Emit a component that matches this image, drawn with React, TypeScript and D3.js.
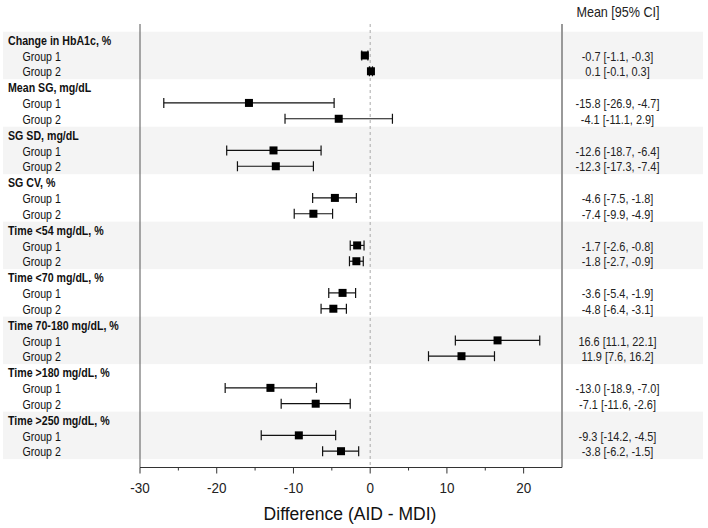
import React from 'react';
import * as d3 from 'd3';

const categories = [
  'Change in HbA1c, %',
  'Mean SG, mg/dL',
  'SG SD, mg/dL',
  'SG CV, %',
  'Time <54 mg/dL, %',
  'Time <70 mg/dL, %',
  'Time 70-180 mg/dL, %',
  'Time >180 mg/dL, %',
  'Time >250 mg/dL, %',
];
const groups = ['Group 1', 'Group 2'];

// [group 1, group 2] per category
const means = [
  [-0.7, 0.1],
  [-15.8, -4.1],
  [-12.6, -12.3],
  [-4.6, -7.4],
  [-1.7, -1.8],
  [-3.6, -4.8],
  [16.6, 11.9],
  [-13.0, -7.1],
  [-9.3, -3.8],
];
const lowers = [
  [-1.1, -0.1],
  [-26.9, -11.1],
  [-18.7, -17.3],
  [-7.5, -9.9],
  [-2.6, -2.7],
  [-5.4, -6.4],
  [11.1, 7.6],
  [-18.9, -11.6],
  [-14.2, -6.2],
];
const uppers = [
  [-0.3, 0.3],
  [-4.7, 2.9],
  [-6.4, -7.4],
  [-1.8, -4.9],
  [-0.8, -0.9],
  [-1.9, -3.1],
  [22.1, 16.2],
  [-7.0, -2.6],
  [-4.5, -1.5],
];
const xTicks = [-30, -20, -10, 0, 10, 20];
const xMinorTicks = [-25, -15, -5, 5, 15];

const W = 708;
const H = 528;
const font = 'Arial, "Liberation Sans", sans-serif';

const fmt = (v: number) => v.toFixed(1);
// the source picture has narrow lettering, squeeze text horizontally
const squeeze = (x: number, y: number, sx: number) => `translate(${x},${y}) scale(${sx},1)`;

const draw = () => {
  const top = 31.7;
  const rowH = 15.83;
  const plotL = 140;
  const plotR = 562;
  const lineTop = 24;
  const axisY = 467.5;

  const x = d3.scaleLinear().domain([-30, 25]).range([plotL, plotR]);

  const rows: Array<{ label: string; header: boolean; ci: number; gi: number }> = [];
  categories.forEach((c, ci) => {
    rows.push({ label: c, header: true, ci, gi: -1 });
    groups.forEach((g, gi) => rows.push({ label: g, header: false, ci, gi }));
  });
  const y = d3
    .scaleBand<number>()
    .domain(d3.range(rows.length))
    .range([top, top + rowH * rows.length]);
  const yc = (i: number) => (y(i) || 0) + rowH / 2;

  const svg = d3
    .create('svg')
    .attr('width', W)
    .attr('height', H)
    .attr('viewBox', `0 0 ${W} ${H}`)
    .style('display', 'block')
    .style('font-family', font);

  svg.append('rect').attr('width', W).attr('height', H).attr('fill', '#fff');

  // alternating category bands
  svg
    .append('g')
    .selectAll('rect')
    .data(categories.map((c, i) => i).filter((i) => i % 2 === 0))
    .join('rect')
    .attr('x', 3)
    .attr('y', (i) => y(i * 3) || 0)
    .attr('width', 700)
    .attr('height', rowH * 3)
    .attr('fill', '#f4f4f4');

  // row labels
  svg
    .append('g')
    .selectAll('text')
    .data(rows)
    .join('text')
    .attr('transform', (d, i) => squeeze(d.header ? 8 : 22.5, yc(i) + 0.8, 0.85))
    .attr('dy', '0.35em')
    .attr('font-size', 12.5)
    .attr('font-weight', (d) => (d.header ? 'bold' : 'normal'))
    .attr('fill', '#111')
    .text((d) => d.label);

  // zero reference
  svg
    .append('line')
    .attr('x1', x(0))
    .attr('x2', x(0))
    .attr('y1', lineTop)
    .attr('y2', axisY)
    .attr('stroke', '#aaa')
    .attr('stroke-dasharray', '3,3');

  // frame lines
  svg
    .append('line')
    .attr('x1', plotL)
    .attr('x2', plotL)
    .attr('y1', lineTop)
    .attr('y2', axisY)
    .attr('stroke', '#555')
    .attr('stroke-width', 1);
  svg
    .append('line')
    .attr('x1', plotR)
    .attr('x2', plotR)
    .attr('y1', lineTop)
    .attr('y2', axisY)
    .attr('stroke', '#999')
    .attr('stroke-width', 2);

  const groupRows = rows.map((d, i) => ({ ...d, i })).filter((d) => !d.header);

  // error bars
  const g = svg.append('g').attr('stroke', '#111').attr('stroke-width', 1.2);
  groupRows.forEach((d) => {
    const cy = yc(d.i);
    const lo = x(lowers[d.ci][d.gi]);
    const hi = x(uppers[d.ci][d.gi]);
    g.append('line').attr('x1', lo).attr('x2', hi).attr('y1', cy).attr('y2', cy);
    g.append('line').attr('x1', lo).attr('x2', lo).attr('y1', cy - 5).attr('y2', cy + 5);
    g.append('line').attr('x1', hi).attr('x2', hi).attr('y1', cy - 5).attr('y2', cy + 5);
  });

  svg
    .append('g')
    .selectAll('rect')
    .data(groupRows)
    .join('rect')
    .attr('x', (d) => x(means[d.ci][d.gi]) - 4)
    .attr('y', (d) => yc(d.i) - 4)
    .attr('width', 8)
    .attr('height', 8)
    .attr('fill', '#000');

  // right-hand estimates
  svg
    .append('text')
    .attr('transform', squeeze(618, 12, 0.9))
    .attr('dy', '0.35em')
    .attr('text-anchor', 'middle')
    .attr('font-size', 14)
    .attr('fill', '#222')
    .text('Mean [95% CI]');
  svg
    .append('g')
    .selectAll('text')
    .data(groupRows)
    .join('text')
    .attr('transform', (d) => squeeze(617.5, yc(d.i) + 0.8, 0.875))
    .attr('dy', '0.35em')
    .attr('text-anchor', 'middle')
    .attr('font-size', 12.5)
    .attr('fill', '#222')
    .text(
      (d) =>
        `${fmt(means[d.ci][d.gi])} [${fmt(lowers[d.ci][d.gi])}, ${fmt(uppers[d.ci][d.gi])}]`,
    );

  // x axis
  const ax = svg.append('g').attr('transform', `translate(0,${axisY})`);
  ax.append('line')
    .attr('x1', plotL)
    .attr('x2', plotR)
    .attr('stroke', '#333');
  ax.selectAll('line.major')
    .data(xTicks)
    .join('line')
    .attr('class', 'major')
    .attr('x1', (d) => x(d))
    .attr('x2', (d) => x(d))
    .attr('y2', 6)
    .attr('stroke', '#333');
  ax.selectAll('line.minor')
    .data(xMinorTicks)
    .join('line')
    .attr('class', 'minor')
    .attr('x1', (d) => x(d))
    .attr('x2', (d) => x(d))
    .attr('y2', 3)
    .attr('stroke', '#333');
  ax.selectAll('text')
    .data(xTicks)
    .join('text')
    .attr('transform', (d) => squeeze(x(d), 20, 0.9))
    .attr('dy', '0.35em')
    .attr('text-anchor', 'middle')
    .attr('font-size', 15)
    .attr('fill', '#222')
    .text((d) => String(d));

  svg
    .append('text')
    .attr('x', 350)
    .attr('y', 514)
    .attr('dy', '0.35em')
    .attr('text-anchor', 'middle')
    .attr('font-size', 17.5)
    .attr('fill', '#111')
    .text('Difference (AID - MDI)');

  return svg.node();
};

const App = () => {
  return (
    <div
      style={{ position: 'absolute', left: 0, top: 0 }}
      ref={(elem) => {
        if (!elem) {
          return;
        }
        const svg = draw();
        if (!svg) {
          return;
        }
        elem.innerHTML = '';
        elem.appendChild(svg);
      }}
    />
  );
};

export default App;
